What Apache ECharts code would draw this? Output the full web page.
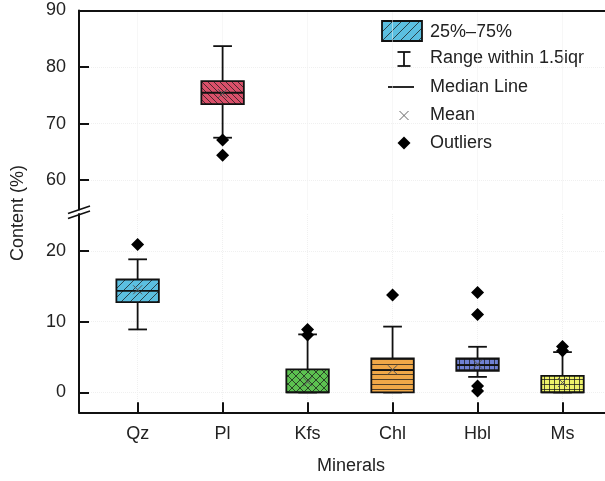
<!DOCTYPE html>
<html><head><meta charset="utf-8">
<script src="https://cdn.jsdelivr.net/npm/echarts@6/dist/echarts.min.js"></script>
<style>html,body{margin:0;padding:0;background:#fff}#c{width:605px;height:481px}</style>
</head><body><div id="c"></div>
<script>
// ---- data ----
const minerals = ['Qz', 'Pl', 'Kfs', 'Chl', 'Hbl', 'Ms'];
const whiskerLow  = [8.9, 67.5, 0, 0, 2.2, 0];
const q1          = [12.75, 73.45, 0, 0, 3.05, 0];
const median      = [14.35, 75.45, 0, 3.15, 3.85, 0];
const q3          = [15.95, 77.5, 3.25, 4.8, 4.8, 2.35];
const whiskerHigh = [18.8, 83.7, 8.2, 9.3, 6.45, 5.7];
const means       = [14.5, 75.3, 1.5, 3.2, 4.0, 1.4];
const outliers    = [[20.9], [67.1, 64.4], [8.9, 8.1], [13.75], [14.1, 11.0, 0.9, 0.2], [6.5, 5.9]];
const upperTicks = [60, 70, 80, 90];
const lowerTicks = [0, 10, 20];
const categoryPos = [1, 2, 3, 4, 5, 6];
const legendLabels = ['25%\u201375%', 'Range within 1.5iqr', 'Median Line', 'Mean', 'Outliers'];

// ---- styles ----
const FONT = 'Liberation Sans, Arial, sans-serif';
const FS = 18;
const fills = [
  {bg: '#5bbfe0', type: 'fwd', s: 9},
  {bg: '#d9506a', type: 'back', s: 6},
  {bg: '#5cc150', type: 'cross', s: 8},
  {bg: '#f0a848', type: 'horiz', s: 5},
  {bg: '#6f80d2', type: 'grid', s: 5},
  {bg: '#eef26a', type: 'grid', s: 5}
];
function makePattern(bg, type, s) {
  const c = document.createElement('canvas');
  c.width = s; c.height = s;
  const g = c.getContext('2d');
  g.fillStyle = bg; g.fillRect(0, 0, s, s);
  g.strokeStyle = 'rgba(25,25,25,0.75)'; g.lineWidth = 1;
  g.beginPath();
  if (type === 'fwd' || type === 'cross') { g.moveTo(-1, s + 1); g.lineTo(s + 1, -1); g.moveTo(-1, 1); g.lineTo(1, -1); g.moveTo(s - 1, s + 1); g.lineTo(s + 1, s - 1); }
  if (type === 'back' || type === 'cross') { g.moveTo(-1, -1); g.lineTo(s + 1, s + 1); g.moveTo(s - 1, -1); g.lineTo(s + 1, 1); g.moveTo(-1, s - 1); g.lineTo(1, s + 1); }
  if (type === 'horiz' || type === 'grid') { g.moveTo(0, s - 0.5); g.lineTo(s, s - 0.5); }
  if (type === 'grid') { g.moveTo(s - 0.5, 0); g.lineTo(s - 0.5, s); }
  g.stroke();
  return c;
}
const patterns = fills.map(f => ({image: makePattern(f.bg, f.type, f.s), repeat: 'repeat'}));

// ---- build series data ----
const SPLIT = 50;
const boxUpper = [], boxLower = [], outUpper = [], outLower = [];
minerals.forEach((m, i) => {
  const row = [categoryPos[i], whiskerLow[i], q1[i], median[i], q3[i], whiskerHigh[i], means[i], i];
  (median[i] > SPLIT ? boxUpper : boxLower).push(row);
  outliers[i].forEach(v => (v > SPLIT ? outUpper : outLower).push([categoryPos[i], v]));
});

function renderBox(params, api) {
  const x = api.value(0);
  const idx = api.value(7);
  const pMin = api.coord([x, api.value(1)]);
  const pQ1 = api.coord([x, api.value(2)]);
  const pMed = api.coord([x, api.value(3)]);
  const pQ3 = api.coord([x, api.value(4)]);
  const pMax = api.coord([x, api.value(5)]);
  const pMean = api.coord([x, api.value(6)]);
  const w = api.size([0.5, 0])[0];
  const cw = api.size([0.22, 0])[0];
  const cx = pMin[0];
  const ls = {stroke: '#111', lineWidth: 1.8};
  const ch = [];
  ch.push({type: 'line', shape: {x1: cx, y1: pMax[1], x2: cx, y2: pQ3[1]}, style: ls});
  ch.push({type: 'line', shape: {x1: cx, y1: pQ1[1], x2: cx, y2: pMin[1]}, style: ls});
  ch.push({type: 'line', shape: {x1: cx - cw / 2, y1: pMax[1], x2: cx + cw / 2, y2: pMax[1]}, style: ls});
  ch.push({type: 'line', shape: {x1: cx - cw / 2, y1: pMin[1], x2: cx + cw / 2, y2: pMin[1]}, style: ls});
  ch.push({type: 'rect', shape: {x: cx - w / 2, y: pQ3[1], width: w, height: pQ1[1] - pQ3[1]},
    style: {fill: patterns[idx], stroke: '#111', lineWidth: 1.8}});
  ch.push({type: 'line', shape: {x1: cx - w / 2, y1: pMed[1], x2: cx + w / 2, y2: pMed[1]}, style: ls});
  const r = 4.5;
  const ms = {stroke: '#555', lineWidth: 1};
  ch.push({type: 'line', shape: {x1: pMean[0] - r, y1: pMean[1] - r, x2: pMean[0] + r, y2: pMean[1] + r}, style: ms});
  ch.push({type: 'line', shape: {x1: pMean[0] - r, y1: pMean[1] + r, x2: pMean[0] + r, y2: pMean[1] - r}, style: ms});
  return {type: 'group', children: ch};
}

const axisLineStyle = {color: '#111', width: 2};
const splitStyle = {show: true, lineStyle: {color: '#f0f0f0', type: 'dotted', width: 1}};
function xAx(gi, top) {
  return {
    gridIndex: gi, type: 'value', min: 0.31, max: 6.5, position: top ? 'top' : 'bottom',
    axisLine: {show: true, onZero: false, lineStyle: axisLineStyle},
    axisTick: {show: !top, inside: true, length: 10, lineStyle: {color: '#111', width: 2}, customValues: categoryPos},
    axisLabel: {show: !top, customValues: categoryPos, formatter: v => minerals[Math.round(v) - 1] || '',
      fontSize: FS, color: '#222', fontFamily: FONT, margin: 13},
    splitLine: splitStyle
  };
}
function yAx(gi, min, max, ticks) {
  return {
    gridIndex: gi, type: 'value', min: min, max: max,
    axisLine: {show: true, onZero: false, lineStyle: axisLineStyle},
    axisTick: {show: true, inside: true, length: 10, lineStyle: {color: '#111', width: 2}, customValues: ticks},
    axisLabel: {customValues: ticks, fontSize: FS, color: '#222', fontFamily: FONT, margin: 13},
    splitLine: splitStyle
  };
}

const LX = 404;
const legendY = [32, 58, 87, 115, 143];
const graphic = [
  {type: 'rect', shape: {x: 382, y: 21, width: 40, height: 20}, style: {fill: patterns[0], stroke: '#111', lineWidth: 1.8}},
  {type: 'line', shape: {x1: LX, y1: 52, x2: LX, y2: 66}, style: {stroke: '#111', lineWidth: 1.8}},
  {type: 'line', shape: {x1: LX - 6.5, y1: 52, x2: LX + 6.5, y2: 52}, style: {stroke: '#111', lineWidth: 1.8}},
  {type: 'line', shape: {x1: LX - 6.5, y1: 66, x2: LX + 6.5, y2: 66}, style: {stroke: '#111', lineWidth: 1.8}},
  {type: 'line', shape: {x1: 388, y1: 87, x2: 414, y2: 87}, style: {stroke: '#111', lineWidth: 1.8}},
  {type: 'line', shape: {x1: LX - 4.5, y1: 111, x2: LX + 4.5, y2: 120}, style: {stroke: '#666', lineWidth: 1}},
  {type: 'line', shape: {x1: LX - 4.5, y1: 120, x2: LX + 4.5, y2: 111}, style: {stroke: '#666', lineWidth: 1}},
  {type: 'polygon', shape: {points: [[LX, 136.5], [LX + 6.5, 143], [LX, 149.5], [LX - 6.5, 143]]}, style: {fill: '#000'}},
  // axis break marks
  {type: 'rect', shape: {x: 76, y: 209.5, width: 6, height: 4.5}, style: {fill: '#fff'}},
  {type: 'line', shape: {x1: 68, y1: 213.5, x2: 90, y2: 206}, style: {stroke: '#111', lineWidth: 1.6}},
  {type: 'line', shape: {x1: 68, y1: 218.5, x2: 90, y2: 211}, style: {stroke: '#111', lineWidth: 1.6}},
  // axis titles
  {type: 'text', x: 18, y: 213, rotation: Math.PI / 2,
    style: {text: 'Content (%)', fontSize: FS, fill: '#222', fontFamily: FONT, align: 'center', verticalAlign: 'middle'}},
  {type: 'text', x: 351, y: 466,
    style: {text: 'Minerals', fontSize: FS, fill: '#222', fontFamily: FONT, align: 'center', verticalAlign: 'middle'}}
];
legendLabels.forEach((t, i) => graphic.push({type: 'text', x: 430, y: legendY[i],
  style: {text: t, fontSize: FS, fill: '#222', fontFamily: FONT, align: 'left', verticalAlign: 'middle'}}));

const chart = echarts.init(document.getElementById('c'), null, {renderer: 'canvas'});
chart.setOption({
  animation: false,
  backgroundColor: '#fff',
  grid: [
    {left: 79, top: 10.5, width: 528, height: 199},
    {left: 79, top: 214, width: 528, height: 198.3}
  ],
  xAxis: [xAx(0, true), xAx(1, false)],
  yAxis: [yAx(0, 54.8, 90, upperTicks), yAx(1, -2.8, 25.2, lowerTicks)],
  series: [
    {type: 'custom', xAxisIndex: 0, yAxisIndex: 0, data: boxUpper, renderItem: renderBox, clip: false, z: 3,
      encode: {x: 0, y: [1, 5]}},
    {type: 'custom', xAxisIndex: 1, yAxisIndex: 1, data: boxLower, renderItem: renderBox, clip: false, z: 3,
      encode: {x: 0, y: [1, 5]}},
    {type: 'scatter', xAxisIndex: 0, yAxisIndex: 0, data: outUpper, symbol: 'diamond', symbolSize: 13,
      itemStyle: {color: '#000', opacity: 1}, z: 5},
    {type: 'scatter', xAxisIndex: 1, yAxisIndex: 1, data: outLower, symbol: 'diamond', symbolSize: 13,
      itemStyle: {color: '#000', opacity: 1}, z: 5}
  ],
  graphic: graphic
});
</script>
</body></html>
